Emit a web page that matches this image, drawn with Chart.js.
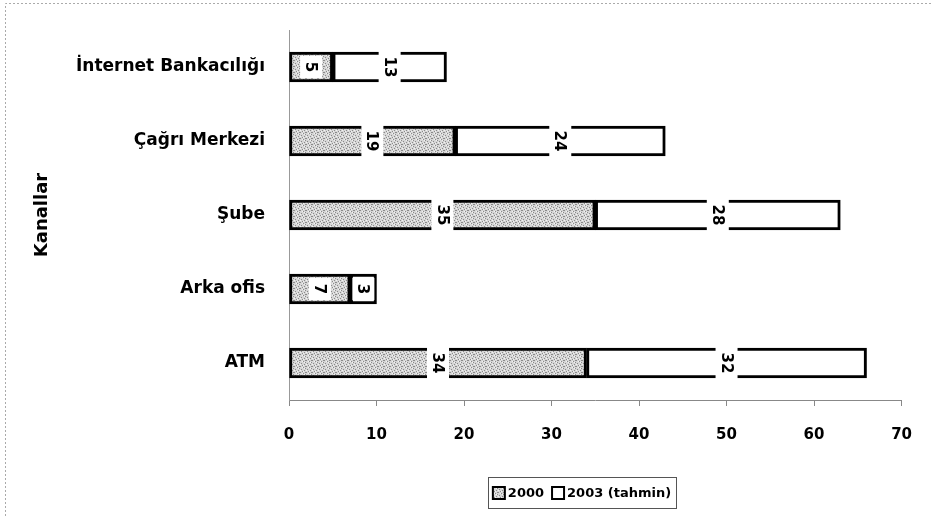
<!DOCTYPE html>
<html>
<head>
<meta charset="utf-8">
<script src="https://cdn.jsdelivr.net/npm/chart.js@4"></script>
<style>
html,body{margin:0;padding:0;background:#fff;}
#wrap{width:932px;height:516px;position:relative;}
</style>
</head>
<body>
<div id="wrap"><canvas id="c" width="932" height="516"></canvas></div>
<script>
const categories = ['İnternet Bankacılığı', 'Çağrı Merkezi', 'Şube', 'Arka ofis', 'ATM'];
const seriesNames = ['2000', '2003 (tahmin)'];
const values2000 = [5, 19, 35, 7, 34];
const values2003 = [13, 24, 28, 3, 32];
const xMin = 0, xMax = 70, xStep = 10;
const axisTitle = 'Kanallar';

const FONT = 'DejaVu Sans';
const canvas = document.getElementById('c');
const ctx0 = canvas.getContext('2d');

function makeStipple() {
  const c = document.createElement('canvas');
  c.width = 6; c.height = 6;
  const g = c.getContext('2d');
  g.fillStyle = '#d6d6d6';
  g.fillRect(0, 0, 6, 6);
  g.fillStyle = '#8a8a8a';
  [[0,0],[3,1],[1,3],[4,4],[2,5],[5,2],[5,0]].forEach(p => g.fillRect(p[0], p[1], 1, 1));
  g.fillStyle = '#f2f2f2';
  [[2,1],[4,2],[0,4],[3,5]].forEach(p => g.fillRect(p[0], p[1], 1, 1));
  return ctx0.createPattern(c, 'repeat');
}
const stipple = makeStipple();
const fills = [stipple, '#ffffff'];

const framePlugin = {
  id: 'frame',
  beforeDraw(chart) {
    const ctx = chart.ctx;
    ctx.save();
    ctx.fillStyle = '#fff';
    ctx.fillRect(0, 0, chart.width, chart.height);
    ctx.strokeStyle = '#aaa';
    ctx.lineWidth = 1;
    ctx.setLineDash([2, 2]);
    ctx.beginPath();
    ctx.moveTo(5.5, 520); ctx.lineTo(5.5, 3.5); ctx.lineTo(932, 3.5);
    ctx.stroke();
    ctx.restore();
  }
};

const labelPlugin = {
  id: 'barLabels',
  afterDatasetsDraw(chart) {
    const ctx = chart.ctx;
    chart.data.datasets.forEach((ds, i) => {
      const meta = chart.getDatasetMeta(i);
      meta.data.forEach((bar, j) => {
        const v = ds.data[j];
        const p = bar.getProps(['x', 'y', 'base'], true);
        const cx = (p.x + p.base) / 2;
        const text = String(v);
        ctx.save();
        ctx.font = 'bold 15px "' + FONT + '"';
        const tw = ctx.measureText(text).width;
        const bw = 22, bh = tw + 12;
        ctx.fillStyle = '#fff';
        ctx.fillRect(cx - bw / 2, p.y - bh / 2, bw, bh);
        ctx.translate(cx, p.y);
        ctx.rotate(Math.PI / 2);
        ctx.fillStyle = '#000';
        ctx.textAlign = 'center';
        ctx.textBaseline = 'middle';
        ctx.fillText(text, 0, 1);
        ctx.restore();
      });
    });
  }
};

const legendPlugin = {
  id: 'customLegend',
  afterDraw(chart) {
    const ctx = chart.ctx;
    ctx.save();
    ctx.font = 'bold 13px "' + FONT + '"';
    const box = 12, gap = 3, itemGap = 8, pad = 5;
    const widths = chart.data.datasets.map(ds => box + gap + ctx.measureText(ds.label).width);
    const total = widths.reduce((a, b) => a + b, 0) + itemGap * (widths.length - 1);
    const cx = 582, cy = 493;
    let x = cx - total / 2;
    ctx.strokeStyle = '#555';
    ctx.lineWidth = 1;
    ctx.strokeRect(Math.round(x - pad) + 0.5, 477.5, Math.round(total + 2 * pad), 31);
    chart.data.datasets.forEach((ds, i) => {
      ctx.fillStyle = ds.backgroundColor;
      ctx.fillRect(x, cy - box / 2, box, box);
      ctx.strokeStyle = '#000';
      ctx.lineWidth = 2;
      ctx.strokeRect(x, cy - box / 2, box, box);
      ctx.fillStyle = '#000';
      ctx.textAlign = 'left';
      ctx.textBaseline = 'middle';
      ctx.fillText(ds.label, x + box + gap, cy + 1);
      x += widths[i] + itemGap;
    });
    ctx.restore();
  }
};

new Chart(canvas, {
  type: 'bar',
  data: {
    labels: categories,
    datasets: [
      { label: seriesNames[0], data: values2000, backgroundColor: fills[0], borderColor: '#000', borderWidth: 3, borderSkipped: false, barThickness: 30 },
      { label: seriesNames[1], data: values2003, backgroundColor: fills[1], borderColor: '#000', borderWidth: 3, borderSkipped: false, barThickness: 30 }
    ]
  },
  options: {
    indexAxis: 'y',
    responsive: false,
    animation: false,
    devicePixelRatio: 1,
    layout: { padding: { top: 30, right: 22, bottom: 0, left: 0 } },
    plugins: { legend: { display: false }, tooltip: { enabled: false } },
    scales: {
      x: {
        type: 'linear',
        stacked: true,
        min: xMin, max: xMax,
        ticks: { stepSize: xStep, color: '#000', font: { family: FONT, size: 15, weight: 'bold' }, padding: 20 },
        grid: { display: true, drawOnChartArea: false, drawTicks: true, tickLength: 6, color: '#888' },
        border: { display: true, color: '#888', width: 1 },
        afterFit(s) { s.height = 116; }
      },
      y: {
        stacked: true,
        ticks: { color: '#000', font: { family: FONT, size: 17, weight: 'bold' }, padding: 16 },
        grid: { display: false },
        border: { display: true, color: '#999', width: 1, dash: [2, 2] },
        title: { display: true, text: axisTitle, color: '#000', font: { family: FONT, size: 18, weight: 'bold' }, padding: { top: 32, bottom: 0 } },
        afterFit(s) { s.width = 289; }
      }
    }
  },
  plugins: [framePlugin, labelPlugin, legendPlugin]
});
</script>
</body>
</html>
